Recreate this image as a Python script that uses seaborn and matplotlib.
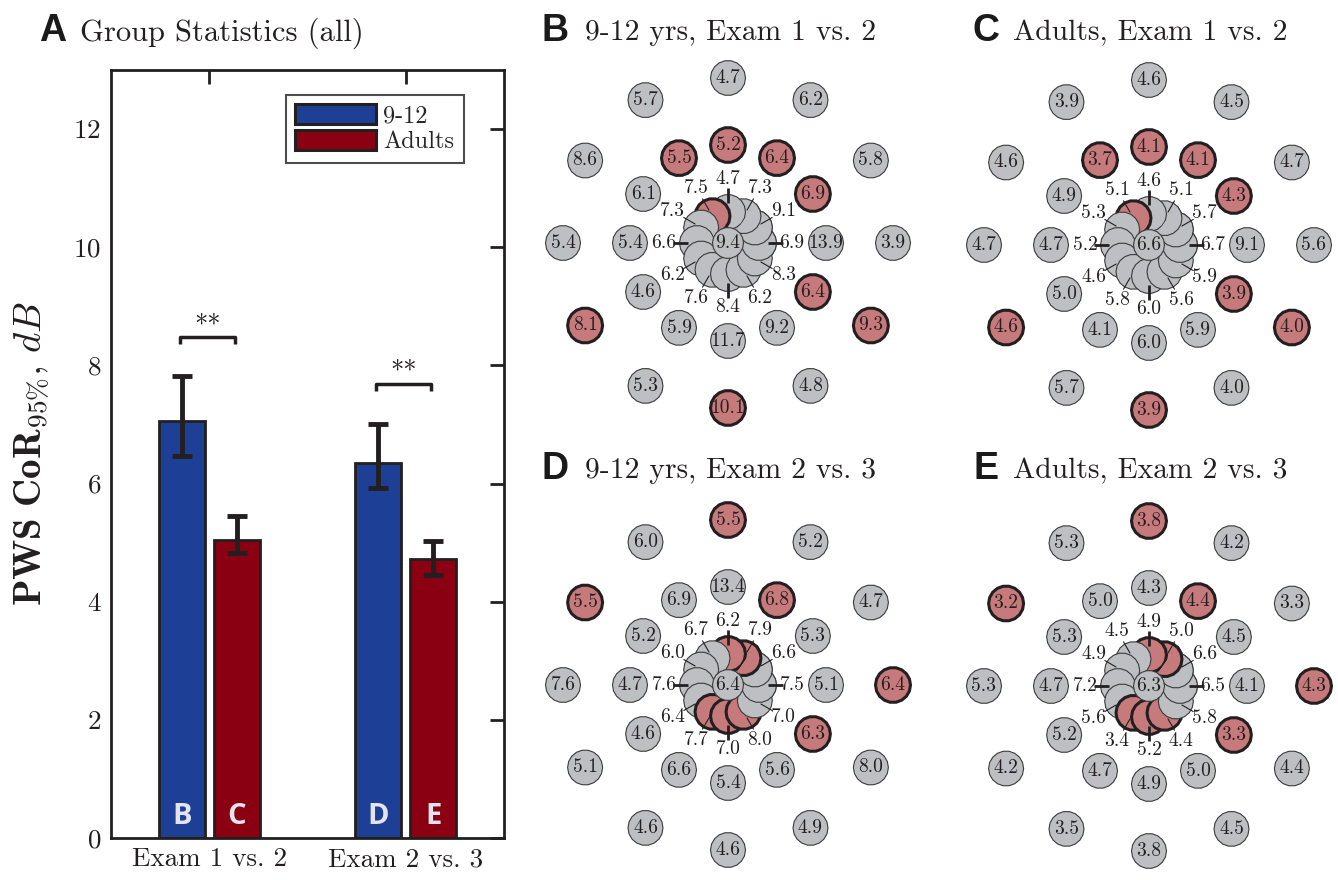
import numpy as np
import pandas as pd
import matplotlib
matplotlib.use("Agg")
import matplotlib.pyplot as plt
import seaborn as sns
from matplotlib.patches import RegularPolygon, Wedge

# ---------------- data ----------------
comparisons = ["Exam 1 vs. 2", "Exam 2 vs. 3"]
groups = ["9-12", "Adults"]
kids_mean = [7.06, 6.34]
kids_lo = [6.47, 5.92]
kids_hi = [7.82, 7.01]
adult_mean = [5.04, 4.73]
adult_lo = [4.82, 4.45]
adult_hi = [5.45, 5.03]
kids_letters = ["B", "D"]
adult_letters = ["C", "E"]
sig_labels = ["**", "**"]
sig_heights = [8.48, 7.69]
y_ticks = [0, 2, 4, 6, 8, 10, 12]

# visual-field maps: lists run clockwise starting at the top position
B_outer = [4.7, 6.2, 5.8, 3.9, 9.3, 4.8, 10.1, 5.3, 8.1, 5.4, 8.6, 5.7]
B_middle = [5.2, 6.4, 6.9, 13.9, 6.4, 9.2, 11.7, 5.9, 4.6, 5.4, 6.1, 5.5]
B_inner = [4.7, 7.3, 9.1, 6.9, 8.3, 6.2, 8.4, 7.6, 6.2, 6.6, 7.3, 7.5]
B_center = 9.4
B_red_outer = [4, 6, 8]
B_red_middle = [0, 1, 2, 4, 11]
B_red_inner = [11]

C_outer = [4.6, 4.5, 4.7, 5.6, 4.0, 4.0, 3.9, 5.7, 4.6, 4.7, 4.6, 3.9]
C_middle = [4.1, 4.1, 4.3, 9.1, 3.9, 5.9, 6.0, 4.1, 5.0, 4.7, 4.9, 3.7]
C_inner = [4.6, 5.1, 5.7, 6.7, 5.9, 5.6, 6.0, 5.8, 4.6, 5.2, 5.3, 5.1]
C_center = 6.6
C_red_outer = [4, 6, 8]
C_red_middle = [0, 1, 2, 4, 11]
C_red_inner = [11]

D_outer = [5.5, 5.2, 4.7, 6.4, 8.0, 4.9, 4.6, 4.6, 5.1, 7.6, 5.5, 6.0]
D_middle = [13.4, 6.8, 5.3, 5.1, 6.3, 5.6, 5.4, 6.6, 4.6, 4.7, 5.2, 6.9]
D_inner = [6.2, 7.9, 6.6, 7.5, 7.0, 8.0, 7.0, 7.7, 6.4, 7.6, 6.0, 6.7]
D_center = 6.4
D_red_outer = [0, 3, 10]
D_red_middle = [1, 4]
D_red_inner = [0, 1, 5, 6, 7]

E_outer = [3.8, 4.2, 3.3, 4.3, 4.4, 4.5, 3.8, 3.5, 4.2, 5.3, 3.2, 5.3]
E_middle = [4.3, 4.4, 4.5, 4.1, 3.3, 5.0, 4.9, 4.7, 5.2, 4.7, 5.3, 5.0]
E_inner = [4.9, 5.0, 6.6, 6.5, 5.8, 4.4, 5.2, 3.4, 5.6, 7.2, 4.9, 4.5]
E_center = 6.3
E_red_outer = [0, 3, 10]
E_red_middle = [1, 4]
E_red_inner = [0, 1, 5, 6, 7]

# ---------------- style ----------------
BLUE = "#1d3f95"
DRED = "#8a0012"
GRAY = "#bebfc2"
PINK = "#c77a7c"
INK = "#231f20"
SERIF = "cmr10"
SANS = "Liberation Sans"

sns.set_theme(style="white")
plt.rcParams["font.family"] = [SERIF, "DejaVu Serif"]
plt.rcParams["mathtext.fontset"] = "cm"
plt.rcParams["axes.formatter.use_mathtext"] = True

W, H = 1338, 880
fig = plt.figure(figsize=(W / 100, H / 100), dpi=100)


def px_axes(x0, y0, x1, y1):
    return fig.add_axes([x0 / W, 1 - y1 / H, (x1 - x0) / W, (y1 - y0) / H])


# ---------------- panel A ----------------
axA = px_axes(111, 70, 504, 838)
df = pd.DataFrame({
    "comparison": comparisons * 2,
    "group": [groups[0]] * 2 + [groups[1]] * 2,
    "cor": kids_mean + adult_mean,
})
sns.barplot(data=df, x="comparison", y="cor", hue="group", palette=[BLUE, DRED],
            width=0.56, gap=0.164, errorbar=None, edgecolor=INK, linewidth=2,
            saturation=1, ax=axA, zorder=2)

kx = [b.get_x() + b.get_width() / 2 for b in axA.containers[0]]
ax_ = [b.get_x() + b.get_width() / 2 for b in axA.containers[1]]
for xs, m, lo, hi in [(kx, kids_mean, kids_lo, kids_hi), (ax_, adult_mean, adult_lo, adult_hi)]:
    m = np.array(m)
    axA.errorbar(xs, m, yerr=[m - np.array(lo), np.array(hi) - m], fmt="none",
                 ecolor=INK, elinewidth=3.5, capsize=7.5, capthick=3.5, zorder=3)

for i in range(len(comparisons)):
    x1, x2, y = kx[i] - 0.01, ax_[i] - 0.01, sig_heights[i]
    axA.plot([x1, x1, x2, x2], [y - 0.12, y, y, y - 0.12], color=INK, lw=2.5,
             solid_capstyle="butt", zorder=3)
    axA.text((x1 + x2) / 2, y + 0.0, sig_labels[i], ha="center", va="bottom",
             fontsize=19, color=INK)
    axA.text(kx[i], 0.36, kids_letters[i], ha="center", va="center", fontsize=21,
             fontweight="bold", family="Open Sans", color="#e4e4ee", zorder=4)
    axA.text(ax_[i], 0.36, adult_letters[i], ha="center", va="center", fontsize=21,
             fontweight="bold", family="Open Sans", color="#e4e4ee", zorder=4)

axA.set_xlim(-0.5, 1.5)
axA.set_ylim(0, 13)
axA.set_yticks(y_ticks)
axA.set_xlabel("")
axA.set_ylabel(r"$\mathbf{PWS\ CoR}_{95\%}\mathbf{,}\ dB$", fontsize=28, color=INK)
axA.yaxis.set_label_coords(-0.15, 0.5)
axA.tick_params(direction="in", length=10, width=2, top=True, right=True,
                labelsize=19.5, colors=INK, pad=7)
for s in axA.spines.values():
    s.set_linewidth(2)
    s.set_color(INK)
    s.set_visible(True)
h, l = axA.get_legend_handles_labels()
leg = axA.legend(h, l, loc="upper right", bbox_to_anchor=(0.897, 0.968), fontsize=17.5,
                 frameon=True, fancybox=False, edgecolor=INK, handlelength=3.3,
                 handleheight=0.85, handletextpad=0.3, labelspacing=0.12,
                 borderpad=0.4, borderaxespad=0)
leg.get_frame().set_linewidth(1.5)
for p in leg.get_patches():
    p.set_edgecolor(INK)
    p.set_linewidth(2.2)

# ---------------- panels B-E ----------------
R_OUT, R_MID, R_IN = 165, 98, 31
R_DOT, R_PETAL, R_CEN = 17.5, 17.5, 15.5
R_LAB = 64
NUM_FS = 14


def dot(ax, x, y, r, red, z, clip=None):
    p = RegularPolygon((x, y), numVertices=18, radius=r, orientation=np.pi / 18,
                       facecolor=PINK if red else GRAY,
                       edgecolor=INK if red else "#3a3a3a",
                       linewidth=2.2 if red else 0.8, zorder=z)
    ax.add_patch(p)
    if clip is not None:
        p.set_clip_path(clip)
    return p


def field(ax, outer, middle, inner, center, red_o, red_m, red_i):
    ax.set_xlim(-190, 190)
    ax.set_ylim(-190, 190)
    ax.set_aspect("equal")
    ax.axis("off")
    for ring, R, reds in [(outer, R_OUT, red_o), (middle, R_MID, red_m)]:
        for i, v in enumerate(ring):
            a = np.radians(90 - 30 * i)
            x, y = R * np.cos(a), R * np.sin(a)
            dot(ax, x, y, R_DOT, i in reds, 2)
            ax.text(x, y, f"{v:.1f}", ha="center", va="center", fontsize=NUM_FS,
                    color=INK, zorder=3)
    # petals, drawn counter-clockwise from 3 o'clock
    order = [(3 - k) % 12 for k in range(12)]
    for z, i in enumerate(order):
        a = np.radians(90 - 30 * i)
        dot(ax, R_IN * np.cos(a), R_IN * np.sin(a), R_PETAL, i in red_i, 5 + z * 0.01)
    clip = Wedge((0, 0), 70, -55, 55, transform=ax.transData)
    for z, i in enumerate(order[:3]):
        a = np.radians(90 - 30 * i)
        dot(ax, R_IN * np.cos(a), R_IN * np.sin(a), R_PETAL, i in red_i, 6 + z * 0.01,
            clip=clip)
    dot(ax, 0, 0, R_CEN, False, 7)
    ax.text(0, 0, f"{center:.1f}", ha="center", va="center", fontsize=NUM_FS,
            color=INK, zorder=8)
    for i, v in enumerate(inner):
        a = np.radians(90 - 30 * i)
        c, s = np.cos(a), np.sin(a)
        if i % 3 == 0:
            ax.plot([40 * c, 55 * c], [40 * s, 55 * s], color=INK, lw=2, zorder=9,
                    solid_capstyle="butt")
        else:
            ax.plot([38 * c, 51 * c], [38 * s, 51 * s], color=INK, lw=0.8, zorder=9)
        ax.text(R_LAB * c, R_LAB * s, f"{v:.1f}", ha="center", va="center",
                fontsize=NUM_FS, color=INK, zorder=9)


centers = {"B": (728, 243), "C": (1149, 245), "D": (728, 685), "E": (1149, 686)}
panels = {
    "B": (B_outer, B_middle, B_inner, B_center, B_red_outer, B_red_middle, B_red_inner),
    "C": (C_outer, C_middle, C_inner, C_center, C_red_outer, C_red_middle, C_red_inner),
    "D": (D_outer, D_middle, D_inner, D_center, D_red_outer, D_red_middle, D_red_inner),
    "E": (E_outer, E_middle, E_inner, E_center, E_red_outer, E_red_middle, E_red_inner),
}
for key, (cx, cy) in centers.items():
    ax = px_axes(cx - 190, cy - 190, cx + 190, cy + 190)
    field(ax, *panels[key])

# ---------------- titles ----------------
titles = [
    ("A", "Group Statistics (all)", 39, 80, 31, 22),
    ("B", "9-12 yrs, Exam 1 vs. 2", 541, 585, 31, 21.3),
    ("C", "Adults, Exam 1 vs. 2", 972, 1013, 31, 21.3),
    ("D", "9-12 yrs, Exam 2 vs. 3", 541, 585, 469, 21.3),
    ("E", "Adults, Exam 2 vs. 3", 973, 1013, 469, 21.3),
]
for letter, txt, xl, xt, y, fs in titles:
    fig.text(xl / W, 1 - y / H, letter, ha="left", va="center", fontsize=27,
             fontweight="bold", family=SANS, color="#1a1a1a")
    fig.text(xt / W, 1 - (y + 2) / H, txt, ha="left", va="center", fontsize=fs,
             color=INK)

fig.savefig("out.png", dpi=100)
